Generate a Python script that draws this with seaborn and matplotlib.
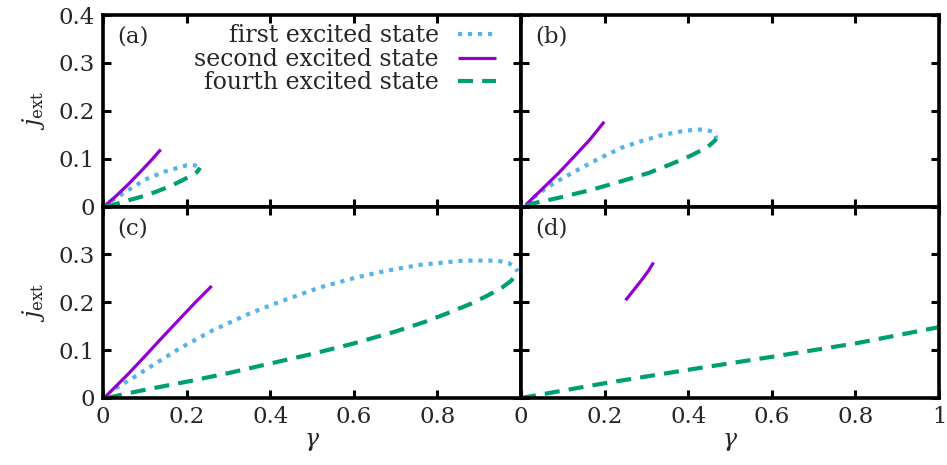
import matplotlib
matplotlib.use('Agg')
import matplotlib.pyplot as plt
import seaborn as sns

# panel (a)
a_first_x = [0.02, 0.053, 0.10, 0.148, 0.18, 0.20, 0.22, 0.232]
a_first_y = [0.012, 0.030, 0.056, 0.073, 0.081, 0.086, 0.086, 0.081]
a_second_x = [0.005, 0.03, 0.06, 0.09, 0.12, 0.138]
a_second_y = [0.002, 0.021, 0.046, 0.073, 0.101, 0.119]
a_fourth_x = [0.005, 0.03, 0.053, 0.09, 0.124, 0.16, 0.188, 0.21, 0.225, 0.232]
a_fourth_y = [0.0, 0.005, 0.011, 0.020, 0.030, 0.042, 0.054, 0.064, 0.072, 0.081]

# panel (b)
b_first_x = [0.03, 0.061, 0.097, 0.145, 0.193, 0.241, 0.289, 0.337, 0.384, 0.42,
             0.444, 0.458, 0.464, 0.467]
b_first_y = [0.019, 0.039, 0.058, 0.081, 0.103, 0.123, 0.137, 0.149, 0.157, 0.161,
             0.160, 0.156, 0.151, 0.142]
b_second_x = [0.012, 0.05, 0.09, 0.13, 0.165, 0.199]
b_second_y = [0.004, 0.036, 0.070, 0.107, 0.140, 0.177]
b_fourth_x = [0.01, 0.026, 0.089, 0.169, 0.241, 0.305, 0.36, 0.408, 0.444, 0.458,
              0.464, 0.467]
b_fourth_y = [0.0, 0.006, 0.018, 0.035, 0.053, 0.070, 0.089, 0.107, 0.123, 0.133,
              0.138, 0.142]

# panel (c)
c_first_x = [0.03, 0.077, 0.14, 0.184, 0.264, 0.352, 0.423, 0.519, 0.607, 0.679,
             0.758, 0.862, 0.942, 0.970, 0.986, 0.992]
c_first_y = [0.02, 0.045, 0.080, 0.104, 0.142, 0.177, 0.201, 0.231, 0.252, 0.266,
             0.278, 0.287, 0.287, 0.282, 0.273, 0.264]
c_second_x = [0.005, 0.06, 0.10, 0.14, 0.18, 0.22, 0.26]
c_second_y = [0.002, 0.050, 0.087, 0.125, 0.162, 0.199, 0.234]
c_fourth_x = [0.01, 0.05, 0.10, 0.20, 0.30, 0.40, 0.50, 0.60, 0.70, 0.77, 0.83,
              0.88, 0.92, 0.955, 0.975, 0.987, 0.992]
c_fourth_y = [0.0, 0.008, 0.017, 0.034, 0.052, 0.072, 0.092, 0.114, 0.139, 0.159, 0.179,
              0.197, 0.214, 0.231, 0.244, 0.255, 0.264]

# panel (d)
d_second_x = [0.250, 0.27, 0.289, 0.305, 0.317]
d_second_y = [0.204, 0.226, 0.247, 0.266, 0.283]
d_fourth_x = [0.0, 0.201, 0.40, 0.60, 0.80, 1.0]
d_fourth_y = [0.0, 0.031, 0.059, 0.086, 0.114, 0.148]

labels = ['first excited state', 'second excited state', 'fourth excited state']
colors = ['#56B4E9', '#9400D3', '#009E73']
panel_names = ['(a)', '(b)', '(c)', '(d)']

sns.set_theme(style='ticks')
plt.rcParams['font.family'] = ['DejaVu Serif']
plt.rcParams['mathtext.fontset'] = 'dejavuserif'
plt.rcParams['font.size'] = 16.5

fig, axes = plt.subplots(2, 2, figsize=(9.47, 4.65), dpi=100)
fig.subplots_adjust(left=0.1088, right=0.9916, top=0.9677, bottom=0.1441,
                    wspace=0, hspace=0)

panels = [
    [(a_first_x, a_first_y), (a_second_x, a_second_y), (a_fourth_x, a_fourth_y)],
    [(b_first_x, b_first_y), (b_second_x, b_second_y), (b_fourth_x, b_fourth_y)],
    [(c_first_x, c_first_y), (c_second_x, c_second_y), (c_fourth_x, c_fourth_y)],
    [None, (d_second_x, d_second_y), (d_fourth_x, d_fourth_y)],
]
styles = [dict(lw=3.0, linestyle=(0, (1.0, 1.4)), dash_capstyle='butt'),
          dict(lw=2.3, linestyle='-', solid_capstyle='butt'),
          dict(lw=3.0, linestyle=(0, (3.6, 2.2)), dash_capstyle='butt')]

for i, ax in enumerate(axes.flat):
    for k, curve in enumerate(panels[i]):
        if curve is None:
            continue
        sns.lineplot(x=curve[0], y=curve[1], ax=ax, color=colors[k], sort=False,
                     estimator=None, label=labels[k] if i == 0 else None, **styles[k])
    ax.set_xlim(0, 1)
    ax.set_ylim(0, 0.4)
    ax.set_xticks([0, 0.2, 0.4, 0.6, 0.8, 1.0])
    ax.set_yticks([0, 0.1, 0.2, 0.3, 0.4])
    ax.tick_params(direction='in', length=6, width=2.2, top=True, right=True,
                   labelsize=16.5, pad=6, color='black')
    for s in ax.spines.values():
        s.set_linewidth(2.6)
        s.set_color('black')
    ax.text(0.035, 0.945, panel_names[i], transform=ax.transAxes, ha='left', va='top',
            fontsize=16.5)
    if i != 0 and ax.get_legend() is not None:
        ax.get_legend().remove()

axes[0, 0].set_yticklabels(['0', '0.1', '0.2', '0.3', '0.4'])
axes[1, 0].set_yticklabels(['0', '0.1', '0.2', '0.3', ''])
axes[0, 1].set_yticklabels([])
axes[1, 1].set_yticklabels([])
axes[0, 0].set_xticklabels([])
axes[0, 1].set_xticklabels([])
axes[1, 0].set_xticklabels(['0', '0.2', '0.4', '0.6', '0.8', ''])
axes[1, 1].set_xticklabels(['0', '0.2', '0.4', '0.6', '0.8', '1'])

for ax in axes[:, 0]:
    ax.set_ylabel(r'$j_{\rm ext}$', fontsize=17, labelpad=8)
for ax in axes[1, :]:
    ax.set_xlabel(r'$\gamma$', fontsize=17, labelpad=1)

axes[0, 0].legend(loc='upper right', bbox_to_anchor=(0.962, 1.0), frameon=False,
                  markerfirst=False, handlelength=1.6, handletextpad=0.8,
                  labelspacing=0.02, borderaxespad=0.0, fontsize=17)

fig.savefig('out.png', dpi=100)
